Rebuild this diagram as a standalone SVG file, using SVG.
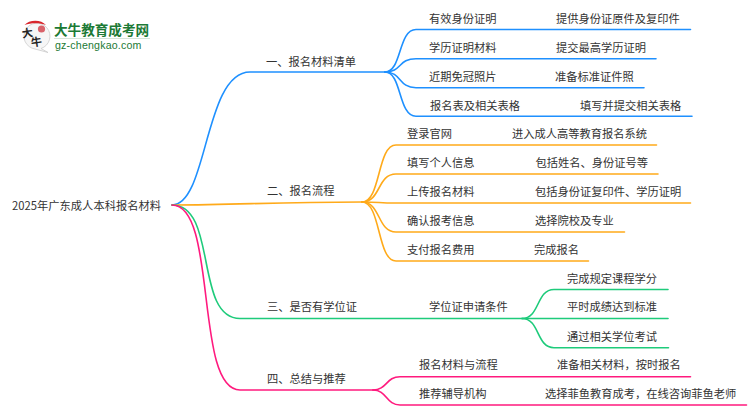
<svg xmlns="http://www.w3.org/2000/svg" width="750" height="410" viewBox="0 0 750 410">
<style>
text{font-family:"Noto Sans CJK SC","Liberation Sans",sans-serif;font-size:11.25px;fill:#333}
.c{fill:none;stroke-width:1.6;stroke-linecap:round}
.b{stroke:#1e90ff}.o{stroke:#ffaa1a}.g{stroke:#1ecb7b}.p{stroke:#ff1a7e}
.lg{fill:#1c7a35;font-weight:700;font-size:13.6px}
.ls{fill:#1c7a35;font-family:"Liberation Sans",sans-serif;font-size:10.6px;font-weight:400;letter-spacing:.2px}
.lk{fill:#222;font-weight:700;font-size:11px}
</style>
<rect width="750" height="410" fill="#fff"/>
<g id="logo">
<path d="M35,49 A13,13 0 1 1 41,48.500 L48,52.500 Z" fill="#f6f6f6" stroke="#ccc" stroke-width="0.8"/>
<path d="M24.500,25 C29,19.500 41,19 46,25 C40,22.500 31,22.500 24.500,25 Z" fill="#d9262c"/>
<circle cx="41.500" cy="29" r="3.600" fill="#d9626a"/>
<text class="lk" x="22" y="37" transform="rotate(-8 28 33)">大</text>
<text class="lk" x="31" y="46" transform="rotate(-8 37 42)">牛</text>
<text class="lg" x="54" y="35">大牛教育成考网</text>
<rect x="54" y="38" width="96" height="1" fill="#d5e5d8"/>
<text class="ls" x="55" y="48.500">gz-chengkao.com</text>
</g>
<g id="connectors">
<path class="c b" d="M172,205 C208,205 204,72 250,72 H385"/>
<path class="c b" d="M385,72 C402,72 398,29.500 416,29.500 H690.500"/>
<path class="c b" d="M385,72 C402,72 398,58.700 416,58.700 H656"/>
<path class="c b" d="M385,72 C402,72 398,87.700 416,87.700 H644"/>
<path class="c b" d="M385,72 C402,72 398,116.300 416,116.300 H692"/>
<path class="c o" d="M172,205 C240,205 270,202 362,202"/>
<path class="c o" d="M362,202 C381,202 377,145 396,145 H656.500"/>
<path class="c o" d="M362,202 C381,202 377,174 396,174 H658"/>
<path class="c o" d="M362,202 C381,202 377,203 396,203 H690.500"/>
<path class="c o" d="M362,202 C381,202 377,232 396,232 H624.500"/>
<path class="c o" d="M362,202 C381,202 377,261 396,261 H588.500"/>
<path class="c g" d="M172,205 C218,205 194,318.500 240,318.500 H522"/>
<path class="c g" d="M522,318.500 C540,318.500 536,289.500 554,289.500 H668"/>
<path class="c g" d="M522,318.500 H668"/>
<path class="c g" d="M522,318.500 C540,318.500 536,347.700 554,347.700 H668.500"/>
<path class="c p" d="M172,205 C218,205 194,390 240,390 H373"/>
<path class="c p" d="M373,390 C387,390 386,376.700 400,376.700 H690.500"/>
<path class="c p" d="M373,390 C387,390 386,405 400,405 H746.500"/>
</g>
<g id="root"><text x="12" y="209.500" textLength="149">2025年广东成人本科报名材料</text></g>
<g id="n1"><text x="266" y="66">一、报名材料清单</text></g>
<g id="n1-1"><text x="429" y="23">有效身份证明</text><text x="556" y="23">提供身份证原件及复印件</text></g>
<g id="n1-2"><text x="429" y="52">学历证明材料</text><text x="556" y="52">提交最高学历证明</text></g>
<g id="n1-3"><text x="429" y="81">近期免冠照片</text><text x="555" y="81">准备标准证件照</text></g>
<g id="n1-4"><text x="430" y="110">报名表及相关表格</text><text x="580" y="110">填写并提交相关表格</text></g>
<g id="n2"><text x="267" y="195">二、报名流程</text></g>
<g id="n2-1"><text x="407" y="138">登录官网</text><text x="512" y="138">进入成人高等教育报名系统</text></g>
<g id="n2-2"><text x="407" y="167">填写个人信息</text><text x="535.500" y="167">包括姓名、身份证号等</text></g>
<g id="n2-3"><text x="407" y="195.500">上传报名材料</text><text x="535" y="195.500">包括身份证复印件、学历证明</text></g>
<g id="n2-4"><text x="407" y="224.500">确认报考信息</text><text x="535" y="224.500">选择院校及专业</text></g>
<g id="n2-5"><text x="407" y="253.500">支付报名费用</text><text x="534" y="253.500">完成报名</text></g>
<g id="n3"><text x="267" y="311">三、是否有学位证</text></g>
<g id="n3-0"><text x="429" y="311">学位证申请条件</text></g>
<g id="n3-1"><text x="567" y="282.500">完成规定课程学分</text></g>
<g id="n3-2"><text x="567" y="311">平时成绩达到标准</text></g>
<g id="n3-3"><text x="567" y="340.500">通过相关学位考试</text></g>
<g id="n4"><text x="267" y="383">四、总结与推荐</text></g>
<g id="n4-1"><text x="419" y="369">报名材料与流程</text><text x="557" y="369">准备相关材料，按时报名</text></g>
<g id="n4-2"><text x="419" y="398">推荐辅导机构</text><text x="545" y="398">选择菲鱼教育成考，在线咨询菲鱼老师</text></g>
</svg>
